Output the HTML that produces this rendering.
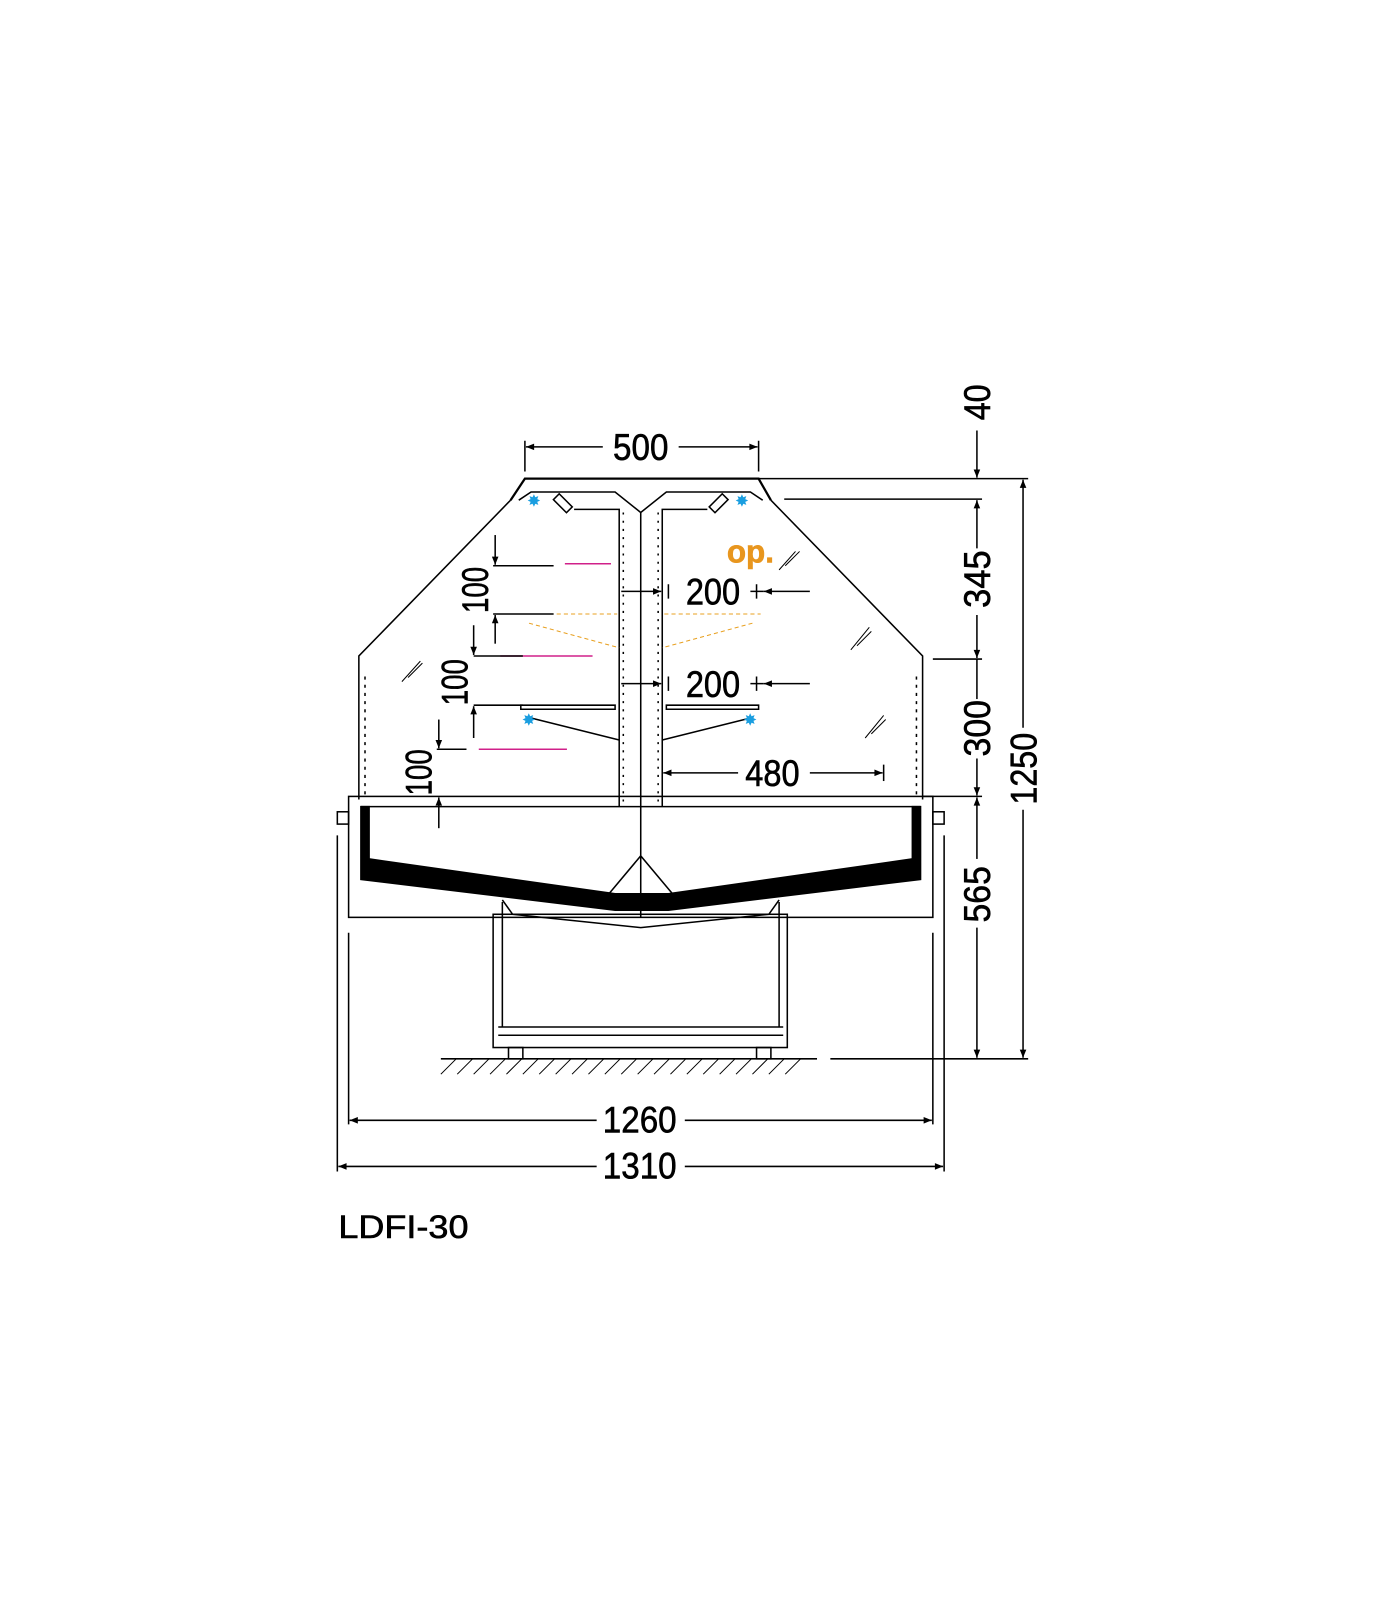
<!DOCTYPE html>
<html><head><meta charset="utf-8"><style>html,body{margin:0;padding:0;background:#fff}svg{display:block}</style></head>
<body>
<svg width="1386" height="1600" viewBox="0 0 1352 1561" xmlns="http://www.w3.org/2000/svg">
<defs>
<marker id="a" viewBox="0 0 10 10" refX="10" refY="5" markerWidth="14" markerHeight="8" markerUnits="userSpaceOnUse" orient="auto-start-reverse"><path d="M0,1 L10,5 L0,9 z" fill="#000"/></marker>
</defs>
<rect width="1352" height="1561" fill="#fff"/>
<g stroke="#000" fill="none" stroke-width="1.5" font-family="Liberation Sans, sans-serif">
<path d="M498,488 L512,467 L740,467 L752,488" stroke-width="2.2"/>
<path d="M506,488 L518,480 L600,480 L625,500 L650,480 L732,480 L744,488"/>
<path d="M560,497 L604,497 L604,787 M646,787 L646,497 L690,497"/>
<line x1="625" y1="500" x2="625" y2="895"/>
<rect x="545" y="482" width="8" height="18" transform="rotate(-45 549 491)"/>
<rect x="697" y="482" width="8" height="18" transform="rotate(45 701 491)"/>
<path d="M498,488 L350,640 L350,780 M752,488 L900,640 L900,780"/>
<line x1="356" y1="660" x2="356" y2="780" stroke-dasharray="3 5"/>
<line x1="894" y1="660" x2="894" y2="780" stroke-dasharray="3 5"/>
<line x1="608" y1="500" x2="608" y2="785" stroke-dasharray="2 6"/>
<line x1="642" y1="500" x2="642" y2="785" stroke-dasharray="2 6"/>
<g stroke-width="1"><path d="M760,556 L776,538 M766,552 L780,538"/><path d="M830,634 L848,612 M836,630 L850,616"/><path d="M844,720 L862,698 M850,716 L864,702"/><path d="M392,665 L410,645 M398,661 L412,647"/></g>
<path d="M508,688 L600,688 L600,692 L508,692 z M650,688 L740,688 L740,692 L650,692 z"/>
<path d="M516,700 L604,722 M734,700 L646,722"/>
<g stroke="#e8a020" stroke-dasharray="4 3" stroke-width="1"><path d="M508,599 L602,599 M648,599 L742,599 M516,608 L604,632 M734,608 L646,632"/></g>
<g stroke="#d0208a" stroke-width="1.5"><path d="M551,550 L596,550 M488,640 L578,640 M467,731 L553,731"/></g>
<g fill="#1a9ee0" stroke="none" font-size="16"><text x="514" y="494">✸</text><text x="717" y="494">✸</text><text x="509" y="708">✸</text><text x="725" y="708">✸</text></g>
<rect x="340" y="777" width="570" height="118"/>
<line x1="352" y1="787" x2="898" y2="787"/>
<path d="M352,787 L360,787 L360,838 L600,872 L652,872 L890,838 L890,787 L898,787 L898,858 L652,888 L600,888 L352,858 z" fill="#000"/>
<path d="M594,872 L625,835 L656,872"/>
<rect x="329" y="792" width="11" height="12"/><rect x="910" y="792" width="11" height="12"/>
<path d="M490,878 L500,892 L625,905 L750,892 L760,878"/>
<rect x="481" y="892" width="287" height="130"/>
<path d="M490,880 L490,1002 L760,1002 L760,880 M486,1002 L764,1002 M486,1010 L764,1010"/>
<rect x="496" y="1022" width="14" height="11"/><rect x="738" y="1022" width="14" height="11"/>
<line x1="430" y1="1033" x2="797" y2="1033"/>
<g stroke-width="1"><path d="M430,1048 L445,1033 M446,1048 L461,1033 M462,1048 L477,1033 M478,1048 L493,1033 M494,1048 L509,1033 M510,1048 L525,1033 M526,1048 L541,1033 M542,1048 L557,1033 M558,1048 L573,1033 M574,1048 L589,1033 M590,1048 L605,1033 M606,1048 L621,1033 M622,1048 L637,1033 M638,1048 L653,1033 M654,1048 L669,1033 M670,1048 L685,1033 M686,1048 L701,1033 M702,1048 L717,1033 M718,1048 L733,1033 M734,1048 L749,1033 M750,1048 L765,1033 M766,1048 L781,1033"/></g>
<path d="M740,467 L1003,467 M765,487 L958,487 M910,643 L958,643 M900,777 L958,777 M810,1033 L1003,1033"/>
<line x1="953" y1="420" x2="953" y2="466" marker-end="url(#a)"/>
<line x1="953" y1="488" x2="953" y2="535" marker-start="url(#a)"/>
<line x1="953" y1="600" x2="953" y2="642" marker-end="url(#a)"/>
<line x1="953" y1="643" x2="953" y2="682"/>
<line x1="953" y1="740" x2="953" y2="776" marker-end="url(#a)"/>
<line x1="953" y1="778" x2="953" y2="838" marker-start="url(#a)"/>
<line x1="953" y1="905" x2="953" y2="1032" marker-end="url(#a)"/>
<line x1="998" y1="468" x2="998" y2="710" marker-start="url(#a)"/>
<line x1="998" y1="790" x2="998" y2="1032" marker-end="url(#a)"/>
<path d="M512,430 L512,460 M740,430 L740,460"/>
<line x1="513" y1="436" x2="588" y2="436" marker-start="url(#a)"/>
<line x1="662" y1="436" x2="739" y2="436" marker-end="url(#a)"/>
<line x1="606" y1="577" x2="645" y2="577" marker-end="url(#a)"/>
<line x1="745" y1="577" x2="790" y2="577" marker-start="url(#a)"/>
<path d="M652,570 L652,584 M738,570 L738,584 M732,577 L745,577"/>
<line x1="606" y1="667" x2="645" y2="667" marker-end="url(#a)"/>
<line x1="745" y1="667" x2="790" y2="667" marker-start="url(#a)"/>
<path d="M652,660 L652,674 M738,660 L738,674 M732,667 L745,667"/>
<line x1="647" y1="754" x2="720" y2="754" marker-start="url(#a)"/>
<line x1="790" y1="754" x2="861" y2="754" marker-end="url(#a)"/>
<line x1="862" y1="746" x2="862" y2="762"/>
<path d="M481,552 L540,552 M481,599 L540,599 M462,640 L510,640 M462,688 L510,688 M426,731 L455,731"/>
<line x1="483" y1="522" x2="483" y2="551" marker-end="url(#a)"/>
<line x1="483" y1="600" x2="483" y2="628" marker-start="url(#a)"/>
<line x1="462" y1="610" x2="462" y2="639" marker-end="url(#a)"/>
<line x1="462" y1="689" x2="462" y2="720" marker-start="url(#a)"/>
<line x1="428" y1="702" x2="428" y2="730" marker-end="url(#a)"/>
<line x1="428" y1="778" x2="428" y2="808" marker-start="url(#a)"/>
<path d="M340,910 L340,1097 M910,910 L910,1097 M329,815 L329,1143 M921,815 L921,1143"/>
<line x1="341" y1="1093" x2="582" y2="1093" marker-start="url(#a)"/>
<line x1="668" y1="1093" x2="909" y2="1093" marker-end="url(#a)"/>
<line x1="330" y1="1138" x2="582" y2="1138" marker-start="url(#a)"/>
<line x1="668" y1="1138" x2="920" y2="1138" marker-end="url(#a)"/>
</g>
<g font-family="Liberation Sans, sans-serif" font-size="36" fill="#000" stroke="#000" stroke-width="0.6" lengthAdjust="spacingAndGlyphs">
<text x="598" y="449" textLength="54" lengthAdjust="spacingAndGlyphs">500</text>
<text x="669" y="590" textLength="53" lengthAdjust="spacingAndGlyphs">200</text>
<text x="669" y="680" textLength="53" lengthAdjust="spacingAndGlyphs">200</text>
<text x="727" y="767" textLength="53" lengthAdjust="spacingAndGlyphs">480</text>
<text x="588" y="1105" textLength="72" lengthAdjust="spacingAndGlyphs">1260</text>
<text x="588" y="1150" textLength="72" lengthAdjust="spacingAndGlyphs">1310</text>
<text transform="translate(966,410) rotate(-90)" textLength="35" lengthAdjust="spacingAndGlyphs">40</text>
<text transform="translate(966,593) rotate(-90)" textLength="56" lengthAdjust="spacingAndGlyphs">345</text>
<text transform="translate(966,738) rotate(-90)" textLength="55" lengthAdjust="spacingAndGlyphs">300</text>
<text transform="translate(966,900) rotate(-90)" textLength="55" lengthAdjust="spacingAndGlyphs">565</text>
<text transform="translate(1011,785) rotate(-90)" textLength="70" lengthAdjust="spacingAndGlyphs">1250</text>
<text transform="translate(476,598) rotate(-90)" textLength="45" lengthAdjust="spacingAndGlyphs">100</text>
<text transform="translate(456,688) rotate(-90)" textLength="45" lengthAdjust="spacingAndGlyphs">100</text>
<text transform="translate(421,776) rotate(-90)" textLength="45" lengthAdjust="spacingAndGlyphs">100</text>
<text x="709" y="549" fill="#e8961e" stroke="#e8961e" font-weight="bold" font-size="32" textLength="46" lengthAdjust="spacingAndGlyphs">op.</text>
<text x="330" y="1208" font-size="32" textLength="127" lengthAdjust="spacingAndGlyphs">LDFI-30</text>
</g>
</svg>
</body></html>
